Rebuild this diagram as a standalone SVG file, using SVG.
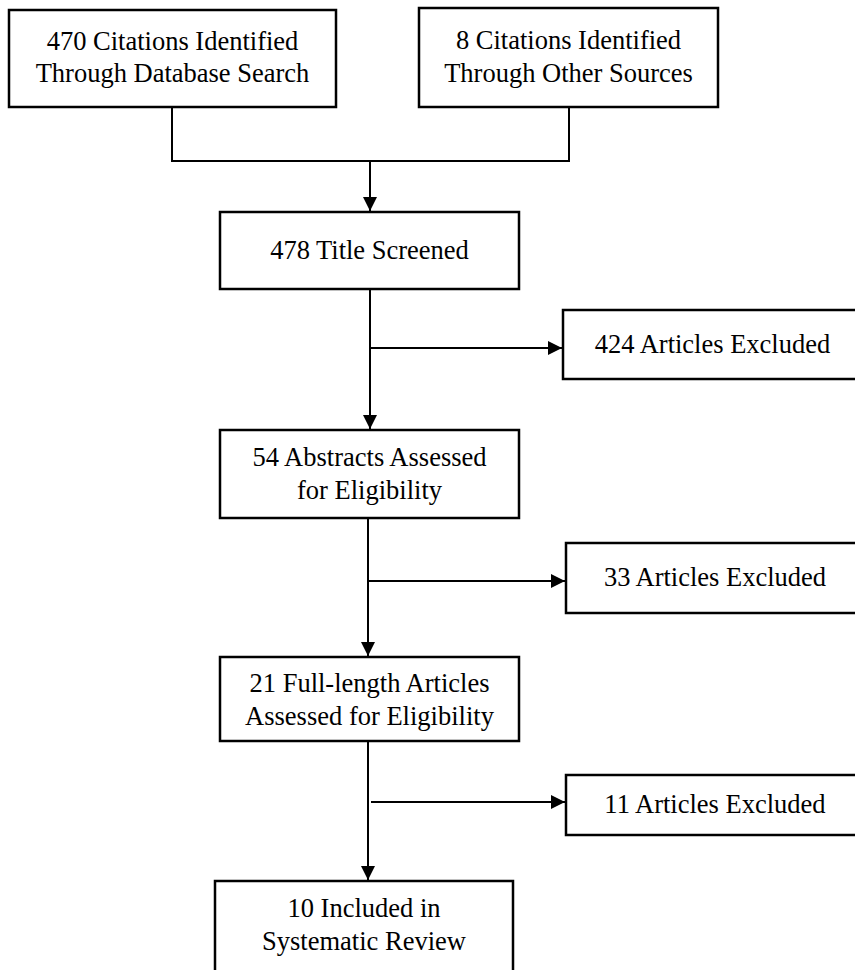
<svg xmlns="http://www.w3.org/2000/svg" width="855" height="970" viewBox="0 0 855 970">
<style>
.box{fill:#fff;stroke:#000;stroke-width:2.5}
text{font-family:'Liberation Serif',serif;font-size:26.5px;fill:#000;text-anchor:middle}
.c{fill:none;stroke:#000;stroke-width:2}
</style>
<defs>
<marker id="ah" viewBox="0 0 10 10" refX="10" refY="5" markerWidth="7" markerHeight="7" markerUnits="strokeWidth" orient="auto">
<path d="M0,0 L10,5 L0,10 z" fill="#000"/>
</marker>
</defs>
<rect width="855" height="970" fill="#fff"/>
<g id="connectors">
<path class="c" d="M172,108 V161 H569 V108"/>
<path class="c" d="M370,161 V211" marker-end="url(#ah)"/>
<path class="c" d="M370,290 V429" marker-end="url(#ah)"/>
<path class="c" d="M370,348 H562" marker-end="url(#ah)"/>
<path class="c" d="M368,518 V656" marker-end="url(#ah)"/>
<path class="c" d="M368,581 H565" marker-end="url(#ah)"/>
<path class="c" d="M368,741 V880" marker-end="url(#ah)"/>
<path class="c" d="M371,802 H565" marker-end="url(#ah)"/>
</g>
<g id="n1"><rect class="box" x="9" y="10" width="327" height="97"/><text x="172.5" y="50">470 Citations Identified</text><text x="172.5" y="82">Through Database Search</text></g>
<g id="n2"><rect class="box" x="419" y="8" width="299" height="99"/><text x="568.5" y="49">8 Citations Identified</text><text x="568.5" y="82">Through Other Sources</text></g>
<g id="n3"><rect class="box" x="220" y="212" width="299" height="77"/><text x="369.5" y="259">478 Title Screened</text></g>
<g id="n4"><rect class="box" x="563" y="310" width="300" height="69"/><text x="712.5" y="353">424 Articles Excluded</text></g>
<g id="n5"><rect class="box" x="220" y="430" width="299" height="88"/><text x="369.5" y="466">54 Abstracts Assessed</text><text x="369.5" y="499">for Eligibility</text></g>
<g id="n6"><rect class="box" x="566" y="543" width="300" height="70"/><text x="715" y="586">33 Articles Excluded</text></g>
<g id="n7"><rect class="box" x="220" y="657" width="299" height="84"/><text x="369.5" y="692">21 Full-length Articles</text><text x="369.5" y="725">Assessed for Eligibility</text></g>
<g id="n8"><rect class="box" x="566" y="775" width="300" height="60"/><text x="715" y="813">11 Articles Excluded</text></g>
<g id="n9"><rect class="box" x="215" y="881" width="298" height="100"/><text x="364" y="917">10 Included in</text><text x="364" y="950">Systematic Review</text></g>
</svg>
